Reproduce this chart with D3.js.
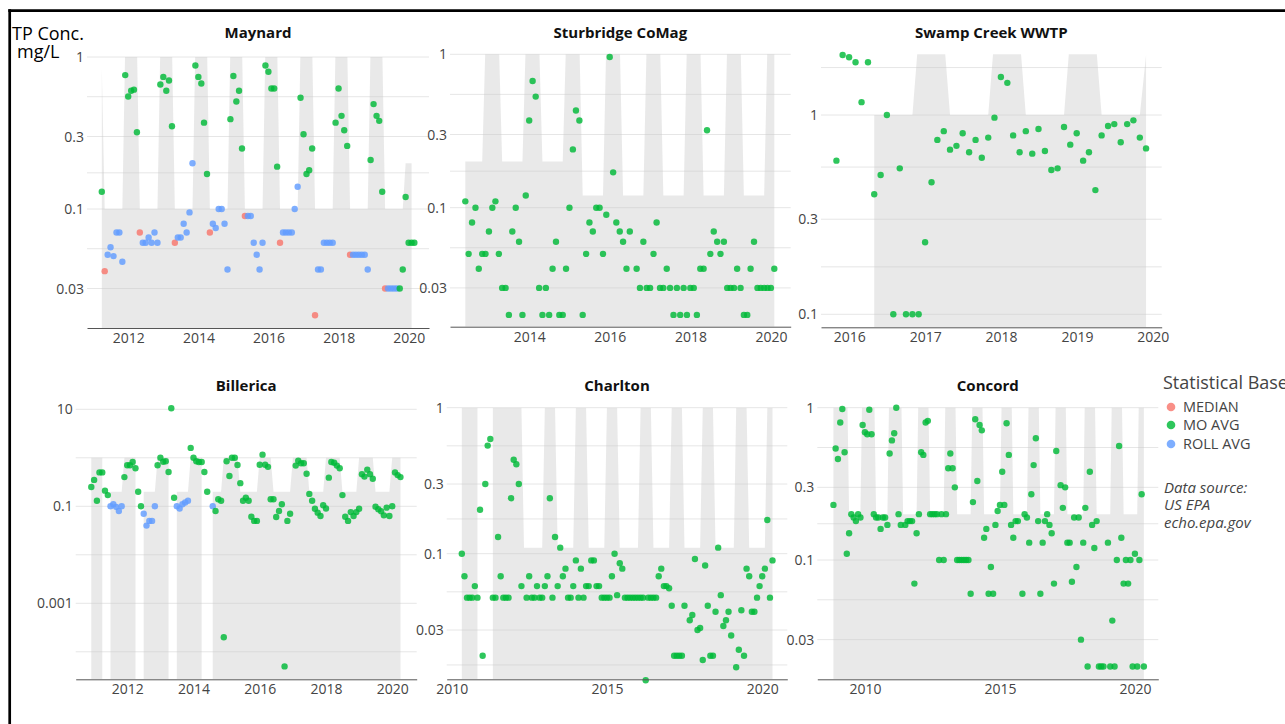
<!DOCTYPE html>
<html>
<head>
<meta charset="utf-8">
<script src="https://cdn.jsdelivr.net/npm/d3@7"></script>
<style>
  body { margin: 0; background: #fff; }
  svg text { font-family: "Open Sans", "Noto Sans", sans-serif; }
</style>
</head>
<body>
<svg id="chart" width="1285" height="724"></svg>
<script>
// ---- data: monthly TP concentration (mg/L), one value per month from the start month ----
// base codes: A = MO AVG, M = MEDIAN, R = ROLL AVG

const maynardStart = "2011-03";
const maynardTP = [
  0.13, 0.039, 0.05, 0.056, 0.049, 0.07, 0.07, 0.045, 0.76, 0.55,
  0.6, 0.61, 0.32, 0.07, 0.06, 0.06, 0.065, 0.06, 0.07, 0.06, 0.66, 0.74,
  0.6, 0.70, 0.35, 0.06, 0.065, 0.065, 0.08, 0.07, 0.095, 0.2, 0.88, 0.74,
  0.67, 0.37, 0.17, 0.07, 0.08, 0.075, 0.1, 0.1, 0.08, 0.04, 0.39, 0.75,
  0.51, 0.6, 0.25, 0.09, 0.09, 0.09, 0.06, 0.05, 0.04, 0.06, 0.88, 0.8,
  0.62, 0.62, 0.19, 0.06, 0.07, 0.07, 0.07, 0.07, 0.1, 0.14, 0.54, 0.31,
  0.17, 0.18, 0.25, 0.02, 0.04, 0.04, 0.06, 0.06, 0.06, 0.06, 0.37, 0.62,
  0.41, 0.33, 0.26, 0.05, 0.05, 0.05, 0.05, 0.05, 0.05, 0.04, 0.21, 0.49,
  0.41, 0.38, 0.13, 0.03, 0.03, 0.03, 0.03, 0.03, 0.03, 0.04, 0.12, 0.06,
  0.06, 0.06
];
const maynardBase = [
  "AMRRRRRRAA",
  "AAAMRRRRRRAA", "AAAMRRRRRRAA", "AAAMRRRRRRAA", "AAAMRRRRRRAA",
  "AAAMRRRRRRAA", "AAAMRRRRRRAA", "AAAMRRRRRRAA",
  "AAAMRRRRAAAA",
  "AA"
].join("");
// permit limit steps: [first month, last month, limit]
const maynardLimit = [
  ["2011-03", "2011-03", 0.85], ["2011-04", "2011-10", 0.1], ["2011-11", "2012-03", 1.2],
  ["2012-04", "2012-10", 0.1], ["2012-11", "2013-03", 1.2], ["2013-04", "2013-10", 0.1],
  ["2013-11", "2014-03", 1.2], ["2014-04", "2014-10", 0.1], ["2014-11", "2015-03", 1.2],
  ["2015-04", "2015-10", 0.1], ["2015-11", "2016-03", 1.2], ["2016-04", "2016-10", 0.1],
  ["2016-11", "2017-03", 1.2], ["2017-04", "2017-10", 0.1], ["2017-11", "2018-03", 1.2],
  ["2018-04", "2018-10", 0.1], ["2018-11", "2019-03", 1.2], ["2019-04", "2019-10", 0.1],
  ["2019-11", "2020-01", 0.2]
];

const sturbridgeStart = "2012-05";
const sturbridgeTP = [
  0.11, 0.05, 0.08, 0.1, 0.04, 0.05, 0.05, 0.07,
  0.1, 0.11, 0.05, 0.03, 0.03, 0.02, 0.07, 0.1, 0.06, 0.02, 0.12, 0.37,
  0.67, 0.53, 0.03, 0.02, 0.03, 0.02, 0.04, 0.06, 0.02, 0.02, 0.04, 0.1,
  0.24, 0.43, 0.37, 0.02, 0.05, 0.08, 0.07, 0.1, 0.1, 0.05, 0.09, 0.96,
  0.17, 0.08, 0.07, 0.06, 0.04, 0.07, null, 0.04, 0.03, 0.06, 0.03, 0.03,
  0.05, 0.08, 0.03, 0.03, 0.04, 0.03, 0.02, 0.03, 0.02, 0.03, 0.02, 0.03,
  0.03, 0.02, 0.04, 0.04, 0.32, 0.05, 0.07, 0.06, 0.05, 0.06, 0.03, 0.03,
  0.03, 0.04, 0.03, 0.02, 0.02, 0.04, 0.06, 0.03, 0.03, 0.03, 0.03, 0.03,
  0.04
];
const sturbridgeLimit = [
  ["2012-05", "2012-10", 0.2], ["2012-11", "2013-03", 1.2], ["2013-04", "2013-10", 0.2],
  ["2013-11", "2014-03", 1.2], ["2014-04", "2014-10", 0.2], ["2014-11", "2015-03", 1.2],
  ["2015-04", "2015-10", 0.12], ["2015-11", "2016-03", 1.2], ["2016-04", "2016-10", 0.12],
  ["2016-11", "2017-03", 1.2], ["2017-04", "2017-10", 0.12], ["2017-11", "2018-03", 1.2],
  ["2018-04", "2018-10", 0.12], ["2018-11", "2019-03", 1.2], ["2019-04", "2019-10", 0.12],
  ["2019-11", "2020-01", 1.2]
];

const swampStart = "2015-10";
const swampTP = [
  0.59, 2.0, 1.95,
  1.84, 1.16, 1.84, 0.40, 0.5, 1.0, 0.1, 0.54, 0.1, 0.1, 0.1, 0.23,
  0.46, 0.75, 0.83, 0.67, 0.70, 0.81, 0.65, 0.75, 0.61, 0.77, 0.97, 1.55,
  1.45, 0.79, 0.65, 0.83, 0.64, 0.85, 0.66, 0.53, 0.54, 0.87, 0.71, 0.81,
  0.59, 0.65, 0.42, 0.79, 0.88, 0.90, 0.73, 0.90, 0.94, 0.77, 0.68
];
const swampLimit = [
  ["2016-04", "2016-10", 1], ["2016-11", "2017-03", 2.5], ["2017-04", "2017-10", 1],
  ["2017-11", "2018-03", 2.5], ["2018-04", "2018-10", 1], ["2018-11", "2019-03", 2.5],
  ["2019-04", "2019-10", 1], ["2019-11", "2019-11", 2.0]
];

const billericaStart = "2010-11";
const billericaTP = [
  0.25, 0.35,
  0.13, 0.5, 0.5, 0.21, 0.17, 0.1, 0.11, 0.097, 0.08, 0.1, 0.40, 0.70,
  0.70, 0.82, 0.61, 0.2, 0.1, 0.07, 0.04, 0.05, 0.05, 0.1, 0.70, 1.0,
  0.83, 0.85, 0.51, 10.5, 0.15, 0.1, 0.09, 0.11, 0.12, 0.13, 1.6, 1.0,
  0.85, 0.82, 0.82, 0.51, 0.2, null, 0.1, 0.08, 0.14, 0.13, 0.0002, 0.85,
  0.42, 1.0, 1.0, 0.71, 0.30, 0.13, 0.15, 0.13, 0.061, 0.05, 0.05, 0.72,
  1.16, 0.72, 0.65, 0.14, 0.14, 0.06, 0.08, 0.11, 0.00005, 0.05, 0.07, null,
  0.69, 0.87, 0.77, 0.77, 0.47, 0.18, 0.13, 0.089, 0.074, 0.063, 0.105, 0.09,
  0.39, 0.82, 0.79, 0.69, 0.61, 0.17, 0.061, 0.05, 0.076, 0.063, 0.076, 0.089,
  0.46, 0.41, 0.57, 0.46, 0.37, 0.098, 0.087, 0.079, 0.065, 0.094, 0.063, 0.1,
  0.5, 0.44, 0.40
];
const billericaBase = [
  "AA",
  "AAAAARRRRRAA", "AAAAARRRRRAA", "AAAAARRRRRAA", "AAAAAARAAAAA",
  "AAAAAAAAAAAA", "AAAAAAAAAAAA", "AAAAAAAAAAAA", "AAAAAAAAAAAA", "AAAAAAAAAAAA",
  "AAA"
].join("");
const billericaLimit = [
  ["2010-11", "2011-03", 1], ["2011-06", "2011-10", 0.2], ["2011-11", "2012-03", 1],
  ["2012-06", "2012-10", 0.2], ["2012-11", "2013-03", 1], ["2013-06", "2013-10", 0.2],
  ["2013-11", "2014-03", 1], ["2014-07", "2014-10", 0.2], ["2014-11", "2015-04", 1],
  ["2015-05", "2015-11", 0.2], ["2015-12", "2016-04", 1], ["2016-05", "2016-11", 0.2],
  ["2016-12", "2017-05", 1], ["2017-06", "2017-11", 0.2], ["2017-12", "2018-05", 1],
  ["2018-06", "2018-11", 0.2], ["2018-12", "2019-05", 1], ["2019-06", "2019-11", 0.2],
  ["2019-12", "2020-03", 1]
];

const charltonStart = "2010-04";
const charltonTP = [
  0.1, 0.07, 0.05, 0.05, 0.05, 0.06, 0.05, 0.2, 0.02,
  0.3, 0.55, 0.61, 0.05, 0.05, 0.13, 0.07, 0.05, 0.05, 0.05, 0.24, 0.44,
  0.41, 0.3, 0.06, null, 0.05, 0.07, 0.05, 0.05, 0.06, 0.05, 0.05, 0.06,
  0.07, 0.24, 0.05, 0.13, 0.06, 0.11, 0.07, 0.079, 0.05, 0.05, 0.06, 0.09,
  0.05, 0.079, 0.05, 0.06, 0.06, 0.09, 0.09, 0.06, 0.06, 0.05, 0.05, 0.05,
  0.05, 0.07, 0.1, 0.052, 0.086, 0.079, 0.05, 0.05, 0.05, 0.05, 0.05, 0.05,
  0.05, 0.05, 0.0136, 0.05, 0.05, 0.05, 0.05, 0.07, 0.079, 0.06, 0.06, 0.058,
  0.044, 0.02, 0.02, 0.02, 0.02, 0.044, null, 0.035, 0.038, 0.092, 0.03, 0.031,
  0.0187, 0.083, 0.044, 0.02, 0.02, 0.04, 0.11, 0.052, 0.032, 0.035, 0.04, 0.0275,
  null, 0.0167, 0.022, 0.041, 0.02, 0.079, 0.07, 0.04, 0.04, 0.05, 0.06, 0.07,
  0.079, 0.17, 0.05, 0.09
];
const charltonLimit = [
  ["2010-04", "2010-10", 1], ["2011-04", "2012-03", 1], ["2012-04", "2012-11", 0.11],
  ["2012-12", "2013-04", 1], ["2013-05", "2013-11", 0.11], ["2013-12", "2014-04", 1],
  ["2014-05", "2014-11", 0.11], ["2014-12", "2015-04", 1], ["2015-05", "2015-12", 0.11],
  ["2016-01", "2016-05", 1], ["2016-06", "2016-12", 0.11], ["2017-01", "2017-05", 1],
  ["2017-06", "2017-12", 0.11], ["2018-01", "2018-05", 1], ["2018-06", "2019-01", 0.11],
  ["2019-02", "2019-06", 1], ["2019-07", "2020-01", 0.11], ["2020-02", "2020-04", 1]
];

const concordStart = "2008-10";
const concordTP = [
  0.23, 0.54, 0.46,
  0.80, 0.98, 0.51, 0.11, 0.15, 0.2, 0.19, 0.18, 0.2, 0.19, 0.77, 0.69,
  0.67, 0.97, 0.67, 0.2, 0.19, 0.19, 0.16, 0.19, 0.19, 0.17, 0.50, 0.61,
  0.68, 1.0, 0.2, 0.17, null, 0.17, 0.18, 0.18, 0.18, 0.07, 0.15, 0.2,
  0.51, 0.49, 0.8, 0.82, 0.2, 0.2, 0.2, 0.2, 0.1, 0.2, 0.1, 0.2,
  0.40, 0.50, 0.40, 0.30, 0.1, 0.1, 0.1, 0.1, 0.1, 0.1, 0.06, 0.24,
  0.84, 0.33, 0.77, 0.71, 0.14, 0.16, 0.06, 0.09, 0.06, 0.17, 0.21, 0.23,
  0.38, 0.23, 0.79, 0.49, 0.17, 0.14, 0.18, 0.18, null, 0.06, 0.2, 0.19,
  0.13, 0.27, 0.42, 0.63, 0.18, 0.06, 0.13, 0.18, 0.2, 0.17, 0.15, 0.07,
  0.52, null, 0.31, 0.22, 0.30, 0.13, 0.13, 0.072, 0.19, 0.09, 0.19, 0.03,
  0.13, 0.22, 0.02, 0.38, 0.17, 0.12, 0.18, 0.02, 0.02, 0.02, null, 0.13,
  0.02, 0.04, 0.02, 0.1, 0.56, 0.14, 0.07, 0.1, 0.07, 0.1, 0.02, 0.11,
  0.02, 0.1, 0.27, 0.02
];
const concordLimit = [
  ["2008-10", "2009-04", 2], ["2009-05", "2009-10", 0.2], ["2009-11", "2010-04", 2],
  ["2010-05", "2010-10", 0.2], ["2010-11", "2011-04", 2], ["2011-05", "2011-11", 0.2],
  ["2011-12", "2012-04", 2], ["2012-05", "2012-11", 0.2], ["2012-12", "2013-04", 2],
  ["2013-05", "2013-11", 0.2], ["2013-12", "2014-04", 2], ["2014-05", "2014-12", 0.2],
  ["2015-01", "2015-05", 2], ["2015-06", "2015-12", 0.2], ["2016-01", "2016-05", 2],
  ["2016-06", "2016-12", 0.2], ["2017-01", "2017-05", 2], ["2017-06", "2018-01", 0.2],
  ["2018-02", "2018-06", 2], ["2018-07", "2019-01", 0.2], ["2019-02", "2019-06", 2],
  ["2019-07", "2020-01", 0.2], ["2020-02", "2020-04", 2]
];

// tick labels
const decadeThirds = [1, 0.3, 0.1, 0.03];
const swampTicks = [1, 0.3, 0.1];
const billericaTicks = [10, 0.1, 0.001];
const thirdsMinor = [0.548, 0.173, 0.0548];
const charltonMinor = [0.548, 0.173, 0.0548, 0.0173];
const swampMinor = [1.73, 0.548, 0.173];
const billericaMinor = [1, 0.01, 0.0001];
const evenYears2012 = [2012, 2014, 2016, 2018, 2020];
const evenYears2014 = [2014, 2016, 2018, 2020];
const swampYears = [2016, 2017, 2018, 2019, 2020];
const fiveYears = [2010, 2015, 2020];

const baseNames = { M: "MEDIAN", A: "MO AVG", R: "ROLL AVG" };
const baseColors = { MEDIAN: "#F8766D", "MO AVG": "#00BA38", "ROLL AVG": "#619CFF" };
const legendItems = ["MEDIAN", "MO AVG", "ROLL AVG"];
const sourceLines = ["Data source:", "US EPA", "echo.epa.gov"];

// ---- layout ----
const panels = [
  { title: "Maynard", start: maynardStart, tp: maynardTP, base: maynardBase, limit: maynardLimit,
    yTicks: decadeThirds, yMinor: thirdsMinor, xTicks: evenYears2012,
    box: { left: 87, right: 429, top: 57, bottom: 328 }, xAnchor: [2012, 128.3, 2020, 408.7],
    yAnchor: [1, 57, 0.1, 209], titleY: 38 },
  { title: "Sturbridge CoMag", start: sturbridgeStart, tp: sturbridgeTP, limit: sturbridgeLimit,
    yTicks: decadeThirds, yMinor: thirdsMinor, xTicks: evenYears2014,
    box: { left: 450, right: 790.7, top: 54.3, bottom: 326.7 }, xAnchor: [2014, 529.3, 2020, 771],
    yAnchor: [1, 54.3, 0.1, 207.7], titleY: 38 },
  { title: "Swamp Creek WWTP", start: swampStart, tp: swampTP, limit: swampLimit,
    yTicks: swampTicks, yMinor: swampMinor, xTicks: swampYears,
    box: { left: 821, right: 1161.7, top: 54.3, bottom: 327.3 }, xAnchor: [2016, 849.3, 2020, 1152.7],
    yAnchor: [1, 115, 0.1, 314.3], titleY: 38 },
  { title: "Billerica", start: billericaStart, tp: billericaTP, base: billericaBase, limit: billericaLimit,
    yTicks: billericaTicks, yMinor: billericaMinor, xTicks: evenYears2012,
    box: { left: 75.7, right: 416.7, top: 400, bottom: 679.3 }, xAnchor: [2012, 127.3, 2020, 392.3],
    yAnchor: [10, 409.3, 0.001, 603.3], titleY: 391 },
  { title: "Charlton", start: charltonStart, tp: charltonTP, limit: charltonLimit,
    yTicks: decadeThirds, yMinor: charltonMinor, xTicks: fiveYears,
    box: { left: 446.7, right: 787.3, top: 407.7, bottom: 679.3 }, xAnchor: [2010, 451.7, 2020, 762.3],
    yAnchor: [1, 407.7, 0.1, 553.7], titleY: 391 },
  { title: "Concord", start: concordStart, tp: concordTP, limit: concordLimit,
    yTicks: decadeThirds, yMinor: thirdsMinor, xTicks: fiveYears,
    box: { left: 817.3, right: 1158.3, top: 407.7, bottom: 679.3 }, xAnchor: [2010, 865, 2020, 1135],
    yAnchor: [1, 407.7, 0.1, 560], titleY: 391 }
];

const parseMonth = d3.timeParse("%Y-%m");
const monthEnd = m => d3.timeDay.offset(d3.timeMonth.offset(m, 1), -1);

function pointSeries(p) {
  const m0 = parseMonth(p.start);
  return p.tp.map((v, i) => ({
    date: monthEnd(d3.timeMonth.offset(m0, i)),
    v: v,
    base: baseNames[p.base ? p.base[i] : "A"]
  })).filter(d => d.v != null);
}

function limitSeries(segments) {
  const first = parseMonth(segments[0][0]);
  const last = parseMonth(segments[segments.length - 1][1]);
  return d3.timeMonth.range(first, d3.timeMonth.offset(last, 1)).map(m => {
    const seg = segments.find(s => m >= parseMonth(s[0]) && m <= parseMonth(s[1]));
    return { date: monthEnd(m), v: seg ? seg[2] : null };
  });
}

const svg = d3.select("#chart");

function drawPanel(p, idx) {
  const b = p.box;
  const x = d3.scaleTime()
    .domain([new Date(p.xAnchor[0], 0, 1), new Date(p.xAnchor[2], 0, 1)])
    .range([p.xAnchor[1], p.xAnchor[3]]);
  x.domain([x.invert(b.left), x.invert(b.right)]).range([b.left, b.right]);

  const y = d3.scaleLog()
    .domain([p.yAnchor[0], p.yAnchor[2]])
    .range([p.yAnchor[1], p.yAnchor[3]]);
  y.domain([y.invert(b.bottom), y.invert(b.top)]).range([b.bottom, b.top]);

  const g = svg.append("g");

  // grid
  const gridVals = p.yTicks.concat(p.yMinor).filter(v => y(v) >= b.top - 0.5 && y(v) < b.bottom - 5);
  g.selectAll("line.grid")
    .data(gridVals)
    .enter()
    .append("line")
    .attr("class", "grid")
    .attr("x1", b.left)
    .attr("x2", b.right)
    .attr("y1", d => y(d))
    .attr("y2", d => y(d))
    .attr("stroke", "#e6e6e6")
    .attr("stroke-width", 1);

  // permit limit band
  const clipId = "clip" + idx;
  svg.append("clipPath").attr("id", clipId)
    .append("rect")
    .attr("x", b.left).attr("y", b.top)
    .attr("width", b.right - b.left).attr("height", b.bottom - b.top);

  const area = d3.area()
    .defined(d => d.v != null)
    .x(d => x(d.date))
    .y0(b.bottom)
    .y1(d => y(d.v));

  g.append("path")
    .datum(limitSeries(p.limit))
    .attr("d", area)
    .attr("clip-path", `url(#${clipId})`)
    .attr("fill", "rgba(200,200,200,0.4)");

  // points
  g.selectAll("circle.pt")
    .data(pointSeries(p))
    .enter()
    .append("circle")
    .attr("class", "pt")
    .attr("cx", d => x(d.date))
    .attr("cy", d => y(d.v))
    .attr("r", 3.2)
    .attr("fill", d => baseColors[d.base])
    .attr("opacity", 0.82);

  // x axis
  const xAxis = d3.axisBottom(x)
    .tickValues(p.xTicks.map(yr => new Date(yr, 0, 1)))
    .tickFormat(d3.timeFormat("%Y"))
    .tickSizeInner(0)
    .tickSizeOuter(0)
    .tickPadding(5);
  const ax = g.append("g")
    .attr("transform", `translate(0,${b.bottom})`)
    .call(xAxis);
  ax.attr("font-family", null).attr("font-size", null);
  ax.select(".domain").attr("stroke", "#555").attr("stroke-width", 1);
  ax.selectAll("text").attr("fill", "#444").style("font-size", "14px");

  // y labels
  g.selectAll("text.ylab")
    .data(p.yTicks)
    .enter()
    .append("text")
    .attr("class", "ylab")
    .attr("x", b.left - 3)
    .attr("y", d => y(d))
    .attr("dy", "0.36em")
    .attr("text-anchor", "end")
    .attr("fill", "#444")
    .style("font-size", "14px")
    .text(d => String(d));

  // title
  g.append("text")
    .attr("x", (b.left + b.right) / 2)
    .attr("y", p.titleY)
    .attr("text-anchor", "middle")
    .attr("fill", "#111")
    .style("font-size", "15px")
    .style("font-weight", "bold")
    .text(p.title);
}

panels.forEach(drawPanel);

// y-axis caption
svg.append("text").attr("x", 12).attr("y", 39.5).style("font-size", "18px").attr("fill", "#000").text("TP Conc.");
svg.append("text").attr("x", 17).attr("y", 57.5).style("font-size", "18px").attr("fill", "#000").text("mg/L");

// legend
const legend = svg.append("g");
legend.append("text")
  .attr("x", 1163).attr("y", 389)
  .attr("fill", "#444")
  .style("font-size", "18px")
  .text("Statistical Base");

const legendY = [407, 425, 444];
legendItems.forEach((name, i) => {
  legend.append("circle")
    .attr("cx", 1171).attr("cy", legendY[i]).attr("r", 4.3)
    .attr("fill", baseColors[name]).attr("opacity", 0.82);
  legend.append("text")
    .attr("x", 1183).attr("y", legendY[i] + 5)
    .attr("fill", "#444")
    .style("font-size", "14.5px")
    .text(name);
});

sourceLines.forEach((line, i) => {
  legend.append("text")
    .attr("x", 1164).attr("y", 492.5 + i * 17.5)
    .attr("fill", "#444")
    .style("font-size", "15px")
    .style("font-style", "italic")
    .text(line);
});

// outer frame (runs off the right and bottom edges)
svg.append("line").attr("x1", 8.3).attr("x2", 1290).attr("y1", 10.7).attr("y2", 10.7)
  .attr("stroke", "#000").attr("stroke-width", 2.7);
svg.append("line").attr("x1", 9.7).attr("x2", 9.7).attr("y1", 9.3).attr("y2", 730)
  .attr("stroke", "#000").attr("stroke-width", 2.7);
</script>
</body>
</html>
